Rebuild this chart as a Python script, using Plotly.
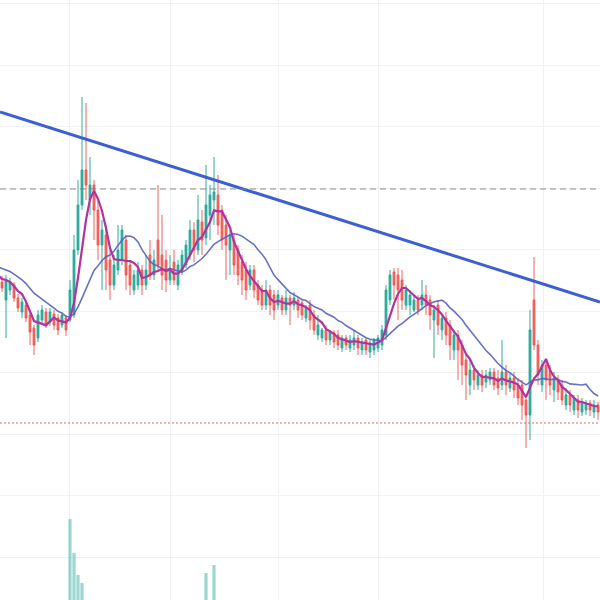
import plotly.graph_objects as go
import pandas as pd

# ---- data (price units; 20 warm-up sessions precede the visible window) ----
idx = list(range(-20, 150))

opens = [33.5, 33.8, 34.2, 34.5, 34.0, 34.8, 34.2, 33.8, 34.5, 34.0,
         33.5, 34.2, 33.8, 33.2, 33.5, 33.0, 33.2, 32.5, 32.8, 32.2,
         31.8, 30.0, 31.0, 31.5, 30.2, 28.8, 29.5, 28.5, 27.2, 26.2,
         28.0, 28.8, 27.8, 28.6, 28.2, 27.5, 28.2, 28.0, 28.5, 35.0,
         39.5, 43.0, 40.0, 41.5, 39.0, 35.5, 36.5, 34.0, 31.5, 33.0,
         34.0, 36.0, 33.5, 31.0, 31.5, 33.0, 31.5, 34.5, 32.5, 36.0,
         34.5, 34.0, 32.0, 33.8, 31.5, 32.8, 33.5, 34.5, 37.0, 35.0,
         37.8, 36.2, 38.5, 40.0, 40.5, 39.0, 37.5, 35.0, 36.0, 35.0,
         33.8, 33.0, 31.5, 33.0, 31.5, 31.0, 29.5, 31.0, 30.5, 29.5,
         30.2, 29.0, 30.2, 29.5, 30.0, 29.7, 28.2, 29.5, 28.5, 26.5,
         26.2, 27.0, 26.0, 26.7, 26.5, 25.2, 26.2, 25.2, 25.5, 26.2,
         25.0, 26.0, 24.8, 25.0, 25.2, 25.5, 26.5, 30.0, 32.8, 32.5,
         32.0, 29.5, 29.5, 29.0, 30.0, 29.5, 30.5, 30.0, 28.0, 29.5,
         27.0, 28.2, 27.5, 25.0, 26.5, 25.5, 24.0, 21.5, 23.0, 21.5,
         22.5, 21.8, 22.0, 22.8, 22.2, 21.5, 22.8, 21.2, 22.2, 21.5,
         21.5, 20.0, 18.5, 30.0, 25.5, 21.5, 23.5, 23.0, 21.0, 22.0,
         21.5, 19.5, 20.5, 19.0, 20.0, 18.8, 19.0, 19.7, 18.8, 19.5]

highs = [34.2, 34.8, 35.0, 35.0, 35.2, 35.2, 34.6, 35.0, 34.8, 34.4,
         34.6, 34.5, 34.2, 34.0, 33.8, 33.6, 33.5, 33.2, 33.0, 32.6,
         32.4, 32.5, 32.2, 31.8, 30.6, 30.2, 29.8, 28.8, 27.5, 29.0,
         29.5, 29.2, 29.2, 29.0, 28.6, 28.8, 28.5, 32.0, 36.5, 42.0,
         50.3, 49.7, 44.3, 42.0, 40.0, 38.0, 37.5, 35.0, 34.5, 37.5,
         37.5, 36.5, 34.0, 33.0, 33.8, 33.5, 34.5, 36.0, 35.0, 41.5,
         38.5, 35.0, 34.5, 35.0, 34.0, 35.0, 36.0, 38.0, 37.8, 40.5,
         39.0, 43.5, 41.5, 44.3, 42.5, 39.5, 38.5, 37.0, 36.5, 35.5,
         34.5, 33.8, 33.5, 33.5, 32.0, 31.5, 32.0, 31.5, 31.0, 31.0,
         30.5, 31.0, 30.5, 30.8, 30.2, 30.0, 29.5, 30.0, 29.0, 28.5,
         27.2, 27.5, 27.0, 27.0, 27.0, 26.5, 26.5, 26.5, 27.0, 26.5,
         26.2, 26.2, 26.0, 26.2, 26.5, 27.5, 31.5, 33.0, 33.2, 33.2,
         33.0, 31.5, 31.0, 30.5, 30.5, 32.0, 31.5, 30.5, 29.5, 30.0,
         28.5, 28.8, 28.0, 27.0, 27.0, 26.0, 24.5, 24.0, 23.5, 23.0,
         23.0, 23.0, 23.2, 23.2, 23.0, 26.0, 23.5, 22.8, 22.8, 22.2,
         22.0, 20.5, 29.0, 34.3, 26.0, 24.0, 24.0, 23.5, 22.8, 22.5,
         22.0, 21.2, 21.0, 20.5, 20.5, 20.2, 20.0, 20.0, 20.0, 19.8]

lows = [33.0, 33.2, 33.8, 33.4, 33.6, 33.8, 33.2, 33.4, 33.5, 33.0,
        33.2, 33.2, 32.8, 32.8, 32.4, 32.5, 32.0, 32.0, 31.6, 31.2,
        30.8, 26.2, 30.5, 29.8, 28.8, 28.2, 27.8, 25.5, 24.5, 25.8,
        27.5, 27.2, 27.4, 27.0, 26.5, 27.2, 26.4, 27.8, 28.2, 34.5,
        39.0, 40.0, 38.5, 36.0, 34.0, 31.0, 31.0, 30.0, 31.0, 32.5,
        33.5, 31.0, 30.5, 30.5, 31.0, 30.5, 31.0, 32.0, 32.0, 33.0,
        31.0, 30.8, 31.5, 31.5, 31.0, 32.5, 33.2, 34.0, 33.8, 34.5,
        34.5, 35.5, 36.0, 37.5, 36.5, 35.0, 32.0, 32.5, 32.5, 31.5,
        30.5, 30.0, 31.0, 30.2, 29.5, 29.0, 29.0, 28.5, 28.0, 29.0,
        28.5, 28.5, 27.5, 29.0, 28.2, 28.0, 27.8, 27.0, 26.5, 26.0,
        25.8, 25.5, 25.5, 25.2, 25.0, 24.8, 25.0, 24.8, 25.0, 24.5,
        24.5, 24.5, 24.2, 24.5, 24.8, 25.0, 26.0, 29.5, 30.0, 28.0,
        29.0, 29.0, 28.5, 28.8, 28.5, 29.0, 28.5, 27.0, 24.2, 26.5,
        26.0, 25.5, 24.0, 24.0, 22.0, 21.5, 20.0, 20.5, 21.0, 21.0,
        20.8, 21.2, 21.5, 21.0, 20.5, 21.0, 20.5, 20.8, 20.2, 19.5,
        18.0, 15.2, 16.0, 25.0, 21.5, 20.8, 20.0, 20.5, 19.8, 20.0,
        19.5, 19.0, 18.8, 18.5, 18.2, 18.4, 18.5, 18.4, 18.2, 18.0]

closes = [33.8, 34.2, 34.5, 34.0, 34.8, 34.2, 33.8, 34.5, 34.0, 33.5,
          34.2, 33.8, 33.2, 33.5, 33.0, 33.2, 32.5, 32.8, 32.2, 31.8,
          31.2, 32.0, 31.8, 30.2, 29.2, 29.8, 28.2, 26.8, 25.5, 28.5,
          29.0, 27.5, 28.8, 27.5, 27.0, 28.5, 27.0, 31.0, 35.0, 39.5,
          43.0, 41.5, 41.5, 39.0, 35.5, 37.0, 33.0, 31.5, 33.5, 35.0,
          37.0, 32.5, 31.5, 32.5, 33.0, 31.5, 33.0, 32.5, 34.0, 33.5,
          32.5, 32.0, 33.2, 32.0, 33.5, 34.5, 35.5, 37.0, 35.0, 38.0,
          36.0, 39.5, 40.5, 40.8, 37.5, 36.0, 35.5, 36.5, 33.5, 32.5,
          32.0, 31.0, 33.0, 31.0, 30.0, 29.5, 31.0, 29.5, 29.0, 30.5,
          29.0, 30.2, 29.5, 30.2, 29.0, 28.5, 29.2, 28.0, 27.0, 27.5,
          27.0, 26.0, 26.8, 25.8, 25.5, 26.2, 25.5, 26.0, 26.2, 25.2,
          25.8, 25.0, 25.7, 26.0, 26.2, 27.0, 31.0, 32.5, 31.5, 31.0,
          30.0, 31.0, 30.5, 30.0, 29.0, 30.5, 29.5, 28.5, 29.0, 27.5,
          28.2, 26.5, 25.5, 26.5, 25.0, 23.5, 22.5, 23.0, 22.0, 22.5,
          21.5, 22.5, 22.8, 21.5, 21.2, 22.8, 21.5, 22.2, 21.0, 20.2,
          19.5, 18.5, 27.0, 25.5, 22.5, 23.5, 22.0, 21.5, 22.2, 20.8,
          20.0, 20.5, 19.5, 20.2, 19.0, 19.8, 19.7, 19.0, 19.5, 18.8]

volumes = [3.2, 2.8, 3.0, 2.6, 3.4, 2.9, 2.5, 3.1, 2.7, 2.4,
           2.9, 2.6, 3.0, 2.5, 2.8, 2.4, 3.1, 2.6, 2.9, 3.3,
           3.0, 5.5, 2.8, 3.2, 3.6, 3.0, 3.4, 4.5, 5.0, 4.2,
           3.1, 2.9, 2.7, 2.8, 3.0, 2.6, 2.9, 18.1, 14.7, 12.5,
           11.7, 9.5, 8.0, 7.2, 6.8, 6.0, 5.5, 5.2, 4.6, 5.0,
           5.4, 4.8, 4.2, 3.8, 3.9, 3.6, 4.0, 4.4, 3.9, 7.5,
           5.6, 4.5, 3.8, 4.0, 3.7, 4.1, 4.6, 5.8, 4.9, 6.5,
           5.2, 12.7, 7.0, 13.5, 8.5, 6.2, 5.5, 4.8, 4.9, 4.5,
           4.2, 4.0, 3.6, 3.8, 3.9, 3.5, 3.4, 3.6, 3.9, 3.3,
           3.2, 3.5, 3.8, 3.1, 3.3, 3.4, 3.0, 3.5, 3.6, 3.8,
           3.2, 3.0, 2.9, 3.1, 3.3, 2.8, 2.7, 2.9, 3.0, 2.8,
           2.7, 2.9, 2.6, 2.8, 3.0, 3.9, 8.2, 7.4, 5.6, 5.0,
           4.8, 4.3, 4.0, 3.8, 3.9, 4.6, 4.4, 4.1, 5.2, 4.3,
           3.9, 4.2, 4.5, 3.8, 4.6, 4.8, 5.1, 4.0, 3.7, 3.6,
           3.4, 3.5, 3.3, 3.4, 3.2, 5.5, 3.6, 3.3, 3.5, 3.9,
           4.8, 7.8, 9.4, 9.7, 6.0, 4.4, 4.1, 3.8, 3.6, 3.4,
           3.3, 3.5, 3.2, 3.1, 3.3, 3.0, 2.9, 3.1, 3.0, 3.2]

fast_ma_window = 5
slow_ma_window = 15

trend_x = [-0.5, 149.5]
trend_y = [48.8, 29.8]
resistance_level = 41.1
support_level = 17.7

# ---- derived series ----
close_s = pd.Series(closes, index=idx)
ma_fast = close_s.rolling(fast_ma_window).mean()
ma_slow = close_s.rolling(slow_ma_window).mean()

UP = "rgba(38,166,154,0.95)"
DOWN = "rgba(239,83,80,0.9)"
vol_colors = ["rgba(38,166,154,0.45)" if c >= o else "rgba(239,83,80,0.45)"
              for o, c in zip(opens, closes)]

fig = go.Figure()

fig.add_trace(go.Bar(x=idx, y=volumes, marker=dict(color=vol_colors, line=dict(width=0)),
                     yaxis="y2", showlegend=False, hoverinfo="skip"))

fig.add_trace(go.Candlestick(
    x=idx, open=opens, high=highs, low=lows, close=closes,
    increasing=dict(line=dict(color=UP, width=1), fillcolor=UP),
    decreasing=dict(line=dict(color=DOWN, width=1), fillcolor=DOWN),
    whiskerwidth=0, showlegend=False))

fig.add_trace(go.Scatter(x=idx, y=ma_slow, mode="lines",
                         line=dict(color="rgba(88,98,196,0.9)", width=1.6),
                         showlegend=False))
fig.add_trace(go.Scatter(x=idx, y=ma_fast, mode="lines",
                         line=dict(color="#b0339f", width=2.2),
                         showlegend=False))
fig.add_trace(go.Scatter(x=trend_x, y=trend_y, mode="lines",
                         line=dict(color="#3d5fd6", width=3),
                         showlegend=False))

fig.add_shape(type="line", xref="paper", x0=0, x1=1, yref="y",
              y0=resistance_level, y1=resistance_level,
              line=dict(color="rgba(130,130,130,0.9)", width=1.2, dash="6px,4px"))
fig.add_shape(type="line", xref="paper", x0=0, x1=1, yref="y",
              y0=support_level, y1=support_level,
              line=dict(color="rgba(215,90,90,0.9)", width=1.2, dash="2px,2px"))

fig.update_layout(
    width=600, height=600,
    margin=dict(l=0, r=0, t=0, b=0),
    paper_bgcolor="white", plot_bgcolor="white",
    showlegend=False,
    boxgap=0.35,
    xaxis=dict(range=[-0.5, 149.5], rangeslider=dict(visible=False),
               tickmode="array", tickvals=[16.75, 42, 69, 94, 135.25],
               showticklabels=False, showgrid=True, gridcolor="#f1f1f1",
               gridwidth=1, zeroline=False, showline=False, ticks=""),
    yaxis=dict(range=[0, 60], tick0=4.3, dtick=6.15, showticklabels=False,
               showgrid=True, gridcolor="#f1f1f1", gridwidth=1,
               zeroline=False, showline=False, ticks=""),
    yaxis2=dict(range=[10, 70], overlaying="y", visible=False, showgrid=False),
)

fig.write_html(
    "out.html",
    config={"displayModeBar": False},
    post_script="document.body.style.margin='0';document.body.style.overflow='hidden';",
)
